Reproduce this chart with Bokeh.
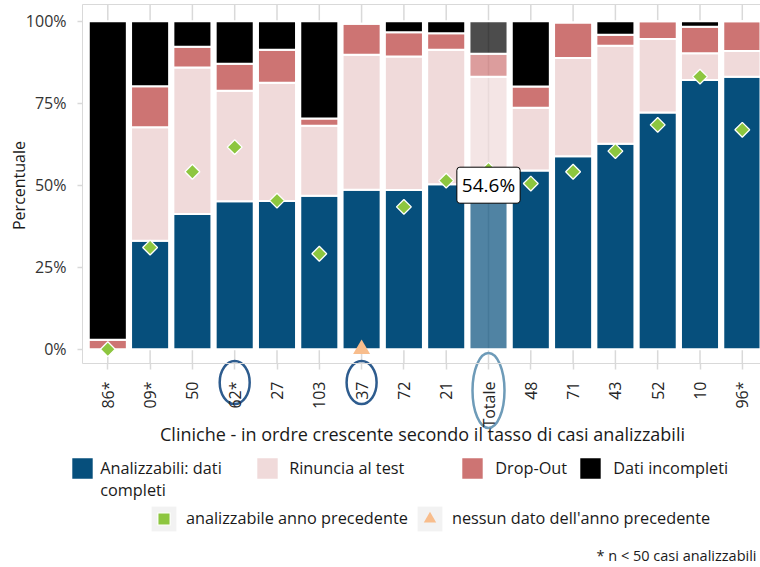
import math
from bokeh.plotting import figure
from bokeh.models import (ColumnDataSource, Range1d, FixedTicker, PrintfTickFormatter,
                          Legend, LegendItem, Label, LinearAxis)
from bokeh.embed import file_html
from bokeh.resources import INLINE

# ---------------- data ----------------
categories = ["86*", "09*", "50", "62*", "27", "103", "37", "72", "21", "Totale",
              "48", "71", "43", "52", "10", "96*"]
analizzabili = [0.0, 33.1, 41.2, 45.1, 45.2, 46.8, 48.6, 48.5, 50.3, 54.6, 54.5, 58.8, 62.6, 72.2, 82.1, 83.1]
rinuncia     = [0.0, 34.6, 44.7, 33.7, 36.0, 21.3, 41.2, 40.7, 41.0, 28.5, 19.1, 30.0, 29.9, 22.4, 8.1, 7.8]
drop_out     = [2.9, 12.5, 6.3, 8.2, 10.1, 2.2, 9.4, 7.4, 5.0, 7.0, 6.5, 10.8, 3.4, 5.4, 8.1, 9.1]
incompleti   = [97.1, 19.8, 7.8, 13.0, 8.7, 29.7, 0.0, 3.4, 3.7, 9.9, 19.9, 0.0, 4.1, 0.0, 1.7, 0.0]
anno_precedente = [0.0, 31.0, 54.1, 61.6, 45.3, 29.1, None, 43.4, 51.4, 54.7,
                   50.5, 54.1, 60.4, 68.4, 83.1, 66.9]
senza_anno_precedente = ["37"]
evidenziate = ["62*", "37"]
categoria_totale = "Totale"
y_ticks = [0, 25, 50, 75, 100]
series_labels = ["Analizzabili: dati\ncompleti", "Rinuncia al test", "Drop-Out", "Dati incompleti"]
point_labels = ["analizzabile anno precedente", "nessun dato dell'anno precedente"]
x_title = "Cliniche - in ordre crescente secondo il tasso di casi analizzabili"
y_title = "Percentuale"
footnote = "* n < 50 casi analizzabili"

# ---------------- layout (pixel geometry of the picture) ----------------
FONT = "Open Sans"
W, H = 760, 567
ZERO_PX = 348.7        # y pixel of 0%
PX_PER_PCT = 3.28
CAT0_PX = 107.3        # x pixel of first category centre
PX_PER_CAT = 42.3
GRID = "#d9d9d9"


def px2x(px):
    return (px - CAT0_PX) / PX_PER_CAT


def py2y(py):
    return (ZERO_PX - py) / PX_PER_PCT


x_start, x_end = px2x(0), px2x(W)
y_start, y_end = py2y(H), py2y(0)
panel_left, panel_bottom, panel_top = px2x(82), py2y(363), py2y(4)

n = len(categories)
xs = list(range(n))
idx = {c: i for i, c in enumerate(categories)}

p = figure(width=W, height=H, x_range=Range1d(x_start, x_end), y_range=Range1d(y_start, y_end),
           output_backend="svg", toolbar_location=None,
           min_border_left=0, min_border_right=0, min_border_top=0, min_border_bottom=0)
p.outline_line_color = None
p.xgrid.visible = False
p.ygrid.visible = False
p.background_fill_color = "white"
p.border_fill_color = "white"

src = ColumnDataSource(dict(
    x=xs, cat=categories,
    analizzabili=analizzabili, rinuncia=rinuncia, drop_out=drop_out, incompleti=incompleti,
    alpha=[0.7 if c == categoria_totale else 1.0 for c in categories],
))

# vertical grid lines (panel only)
p.segment(x0="x", y0=panel_bottom, x1="x", y1=panel_top, source=src, line_color=GRID, line_width=1.5)

stack = ["analizzabili", "rinuncia", "drop_out", "incompleti"]
colors = ["#064f7c", "#f0dada", "#cd7473", "#000000"]
bars = p.vbar_stack(stack, x="x", width=0.9, source=src, fill_color=colors,
                    fill_alpha="alpha", line_color="white", line_width=2)

prev_x = [i for i, v in enumerate(anno_precedente) if v is not None]
prev_y = [v for v in anno_precedente if v is not None]
r_prev = p.scatter(prev_x, prev_y, marker="square", angle=math.pi / 4, size=10.5,
                   fill_color="#8dc63f", line_color="white", line_width=1.3)
r_none = p.scatter([idx[c] for c in senza_anno_precedente], [0] * len(senza_anno_precedente),
                   marker="triangle", size=17, fill_color="#f8bd8c", line_color=None)

# legend key background (zero-area, only used by the legend)
r_bg = p.quad(left="x", right="x", top=0, bottom=0, source=src, fill_color="#f2f2f2", line_color=None)

# highlight ellipses around axis labels
p.ellipse(x=[idx[c] for c in evidenziate], y=py2y(382), width=30, height=43,
          width_units="screen", height_units="screen",
          fill_color=None, line_color="#2e5c8e", line_width=2.5)
p.ellipse(x=[idx[categoria_totale]], y=py2y(390), width=32, height=75,
          width_units="screen", height_units="screen",
          fill_color=None, line_color="#6e9bb8", line_width=2.5)

tot = analizzabili[idx[categoria_totale]]
p.add_layout(Label(x=idx[categoria_totale], y=50, text=f"{tot:.1f}%", text_align="center",
                   text_baseline="middle", text_font=FONT, text_font_size="19px", text_color="black",
                   background_fill_color="white", border_line_color="black", border_line_width=1,
                   padding=5, border_radius=3))

# titles and footnote
p.add_layout(Label(x=px2x(422), y=py2y(433), text=x_title, text_align="center", text_baseline="middle",
                   text_font=FONT, text_font_size="18px", text_color="#1a1a1a"))
p.add_layout(Label(x=px2x(18), y=py2y(185), text=y_title, angle=math.pi / 2, text_align="center",
                   text_baseline="middle", text_font=FONT, text_font_size="16px", text_color="#1a1a1a"))
p.add_layout(Label(x=px2x(756), y=py2y(555), text=footnote, text_align="right", text_baseline="middle",
                   text_font=FONT, text_font_size="14.5px", text_color="#1a1a1a"))

# axes (fixed at the panel edges)
ax = p.xaxis[0]
ax.fixed_location = panel_bottom
ax.bounds = (panel_left, x_end)
ax.ticker = FixedTicker(ticks=xs)
ax.major_label_overrides = {i: c for i, c in enumerate(categories)}
ax.major_label_orientation = math.pi / 2
ax.major_label_standoff = 12
ax.major_tick_out = 6
ax.major_tick_in = 0
ax.minor_tick_line_color = None
ax.axis_line_color = GRID
ax.major_tick_line_color = GRID
ax.major_tick_line_width = 1.5
ax.major_label_text_font = FONT
ax.major_label_text_font_size = "16px"
ax.major_label_text_color = "#262626"

ay = p.yaxis[0]
ay.fixed_location = panel_left
ay.bounds = (panel_bottom, panel_top)
ay.ticker = FixedTicker(ticks=y_ticks)
ay.formatter = PrintfTickFormatter(format="%d%%")
ay.major_tick_out = 5
ay.major_tick_in = 0
ay.minor_tick_line_color = None
ay.axis_line_color = GRID
ay.major_tick_line_color = GRID
ay.major_tick_line_width = 1.5
ay.major_label_standoff = 11
ay.major_label_text_font = FONT
ay.major_label_text_font_size = "16px"
ay.major_label_text_color = "#333333"

top = LinearAxis(fixed_location=panel_top, bounds=(panel_left, x_end), axis_line_color=GRID,
                 major_tick_line_color=None, minor_tick_line_color=None,
                 major_label_text_color=None, ticker=FixedTicker(ticks=[]))
p.add_layout(top, "above")


def add_legend(label, renderers, left, bottom, glyph, standoff, size="16.3px"):
    lg = Legend(items=[LegendItem(label=label, renderers=renderers)],
                location=(left, H - bottom), orientation="horizontal",
                glyph_width=glyph, glyph_height=glyph, label_standoff=standoff,
                padding=0, margin=0, spacing=0, border_line_color=None,
                background_fill_alpha=0, label_text_font=FONT, label_text_font_size=size,
                label_text_color="#1a1a1a", label_height=glyph)
    p.add_layout(lg)


add_legend("\n" + series_labels[0], [bars[0]], 68.2, 501.2, 28, 4)
add_legend(series_labels[1], [bars[1]], 253.2, 482.2, 28, 8)
add_legend(series_labels[2], [bars[2]], 458.2, 482.2, 28, 9)
add_legend(series_labels[3], [bars[3]], 576.2, 482.2, 28, 9)
add_legend(point_labels[0], [r_bg, r_prev], 147.9, 533.9, 31, 7)
add_legend(point_labels[1], [r_bg, r_none], 413.9, 533.9, 31, 7)

open("out.html", "w").write(file_html(p, INLINE))
